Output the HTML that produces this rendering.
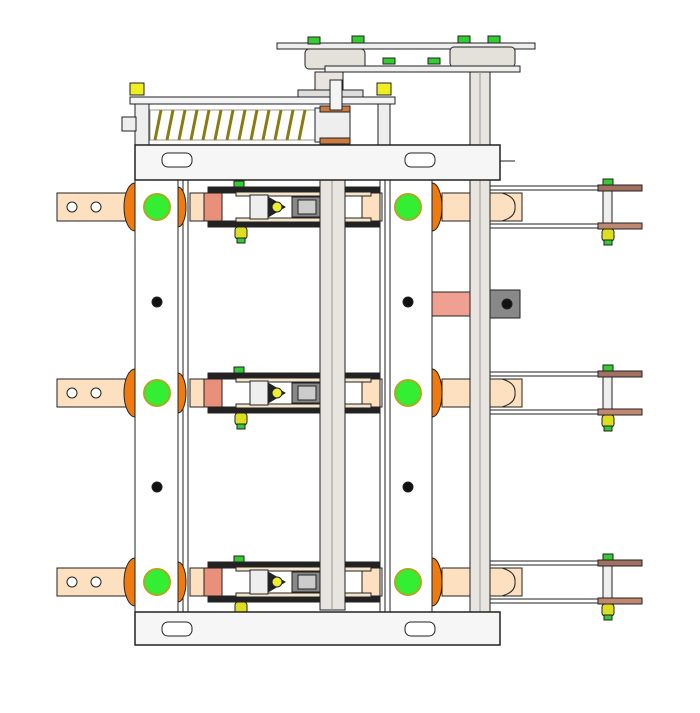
<!DOCTYPE html>
<html><head><meta charset="utf-8"><style>html,body{margin:0;padding:0;background:#fff}svg{display:block}</style></head>
<body>
<svg width="700" height="713" viewBox="0 0 700 713" xmlns="http://www.w3.org/2000/svg" stroke="#222" stroke-width="1">
<defs>
<g id="phase">
  <rect x="57" y="-14" width="75" height="28" fill="#fde0c0"/>
  <circle cx="72" cy="0" r="5" fill="#fff"/><circle cx="96" cy="0" r="5" fill="#fff"/>
  <path d="M135,-24 A11,24 0 0 0 135,24 Z" fill="#ee7a10"/>
  <path d="M178,-20 A8,20 0 0 1 178,20 Z" fill="#ee7a10"/>
  <path d="M432,-24 A10,24 0 0 1 432,24 Z" fill="#ee7a10"/>
  <rect x="442" y="-14" width="80" height="28" fill="#fde0c0"/>
  <path d="M502,-14 Q516,-10 515,0 Q516,10 502,14" fill="none"/>
  <rect x="480" y="-21" width="162" height="4" fill="#fff"/>
  <rect x="480" y="17" width="162" height="4" fill="#fff"/>
  <rect x="598" y="-22" width="44" height="6" fill="#a07060"/>
  <rect x="598" y="16" width="44" height="6" fill="#c08870"/>
  <rect x="603" y="-16" width="9" height="32" fill="#eee"/>
  <rect x="603" y="-28" width="10" height="6" fill="#3c3"/>
  <rect x="602" y="22" width="12" height="12" rx="3" fill="#dd2"/>
  <rect x="604" y="33" width="8" height="5" fill="#3c3"/>
  <!-- moving contact -->
  <rect x="190" y="-14" width="192" height="28" fill="#fff"/>
  <rect x="190" y="-14" width="14" height="28" fill="#fde0c0"/>
  <rect x="204" y="-14" width="18" height="28" fill="#e8907a"/>
  <rect x="362" y="-14" width="18" height="28" fill="#fde0c0"/>
  <rect x="208" y="-20" width="172" height="5" fill="#222"/>
  <rect x="208" y="15" width="172" height="5" fill="#222"/>
  <rect x="236" y="-15" width="135" height="4" fill="#f5e6cc"/>
  <rect x="236" y="11" width="135" height="4" fill="#f5e6cc"/>
  <rect x="250" y="-12" width="18" height="24" fill="#eee"/>
  <path d="M268,-10 L285,0 L268,10 Z" fill="#222"/>
  <circle cx="277" cy="0" r="5" fill="#ee3"/>
  <rect x="292" y="-10" width="30" height="20" fill="#888"/>
  <rect x="298" y="-7" width="18" height="14" fill="#ccc"/>
  <rect x="234" y="-26" width="10" height="6" fill="#3c3"/>
  <rect x="235" y="20" width="12" height="12" rx="3" fill="#dd2"/>
  <rect x="237" y="31" width="8" height="5" fill="#3c3"/>
  <circle cx="157" cy="0" r="13" fill="#3e3" stroke="#aa2" stroke-width="2"/>
  <circle cx="408" cy="0" r="13" fill="#3e3" stroke="#aa2" stroke-width="2"/>
</g>
</defs>

<rect x="277" y="43" width="258" height="6" fill="#eee"/>
<rect x="305" y="49" width="60" height="20" rx="4" fill="#e4e0da"/>
<rect x="450" y="47" width="65" height="20" rx="4" fill="#e4e0da"/>
<rect x="325" y="66" width="195" height="6" fill="#eee"/>
<rect x="308" y="37" width="12" height="7" fill="#3c3"/>
<rect x="352" y="36" width="12" height="7" fill="#3c3"/>
<rect x="458" y="36" width="12" height="7" fill="#3c3"/>
<rect x="488" y="36" width="12" height="7" fill="#3c3"/>
<rect x="383" y="58" width="12" height="6" fill="#3c3"/>
<rect x="428" y="58" width="12" height="6" fill="#3c3"/>
<rect x="315" y="72" width="28" height="25" fill="#e8e4df"/>
<rect x="298" y="90" width="65" height="7" fill="#ddd"/>
<rect x="130" y="83" width="14" height="12" fill="#ee2"/>
<rect x="377" y="83" width="14" height="12" fill="#ee2"/>
<rect x="130" y="97" width="265" height="7" fill="#f4f4f4"/>
<rect x="135" y="104" width="14" height="42" fill="#eee"/>
<rect x="378" y="104" width="12" height="42" fill="#eee"/>
<rect x="122" y="117" width="14" height="14" fill="#eee"/>
<rect x="150" y="110" width="165" height="30" fill="#fff" stroke="#999"/>
<path d="M155,140 l6,-30 M167,140 l6,-30 M179,140 l6,-30 M191,140 l6,-30 M203,140 l6,-30 M215,140 l6,-30 M227,140 l6,-30 M239,140 l6,-30 M251,140 l6,-30 M263,140 l6,-30 M275,140 l6,-30 M287,140 l6,-30 M299,140 l6,-30" stroke="#8a7a10" stroke-width="3" fill="none"/>
<rect x="315" y="108" width="35" height="34" fill="#eee"/>
<rect x="320" y="106" width="30" height="6" fill="#c87a40"/>
<rect x="320" y="138" width="30" height="6" fill="#c87a40"/>
<rect x="330" y="80" width="12" height="30" fill="#f4f4f4"/>

<rect x="135" y="178" width="43" height="436" fill="#fff"/>
<rect x="178" y="178" width="10" height="436" fill="#fff"/>
<line x1="183" y1="178" x2="183" y2="614"/>
<rect x="380" y="178" width="10" height="436" fill="#fff"/>
<line x1="385" y1="178" x2="385" y2="614"/>
<rect x="390" y="178" width="42" height="436" fill="#fff"/>

<use href="#phase" transform="translate(0,207)"/>
<use href="#phase" transform="translate(0,393)"/>
<use href="#phase" transform="translate(0,582)"/>

<rect x="432" y="292" width="38" height="24" fill="#f0a090"/>
<rect x="490" y="290" width="30" height="28" fill="#888"/>
<circle cx="507" cy="304" r="5" fill="#111"/>

<!-- vertical rods in front -->
<rect x="320" y="180" width="25" height="430" fill="#e8e4df"/>
<line x1="332" y1="180" x2="332" y2="610" stroke="#999"/>
<rect x="470" y="72" width="20" height="540" fill="#e8e4df"/>
<line x1="480" y1="72" x2="480" y2="612" stroke="#999"/>

<rect x="135" y="145" width="365" height="35" fill="#f6f6f6" stroke-width="1.5"/>
<rect x="162" y="153" width="30" height="14" rx="6" fill="#fff"/>
<rect x="405" y="153" width="30" height="14" rx="6" fill="#fff"/>
<line x1="500" y1="161" x2="515" y2="161"/>
<rect x="135" y="612" width="365" height="33" fill="#f6f6f6" stroke-width="1.5"/>
<rect x="162" y="622" width="30" height="14" rx="6" fill="#fff"/>
<rect x="405" y="622" width="30" height="14" rx="6" fill="#fff"/>

<circle cx="157" cy="302" r="5" fill="#111"/>
<circle cx="408" cy="302" r="5" fill="#111"/>
<circle cx="157" cy="487" r="5" fill="#111"/>
<circle cx="408" cy="487" r="5" fill="#111"/>
</svg>
</body></html>
